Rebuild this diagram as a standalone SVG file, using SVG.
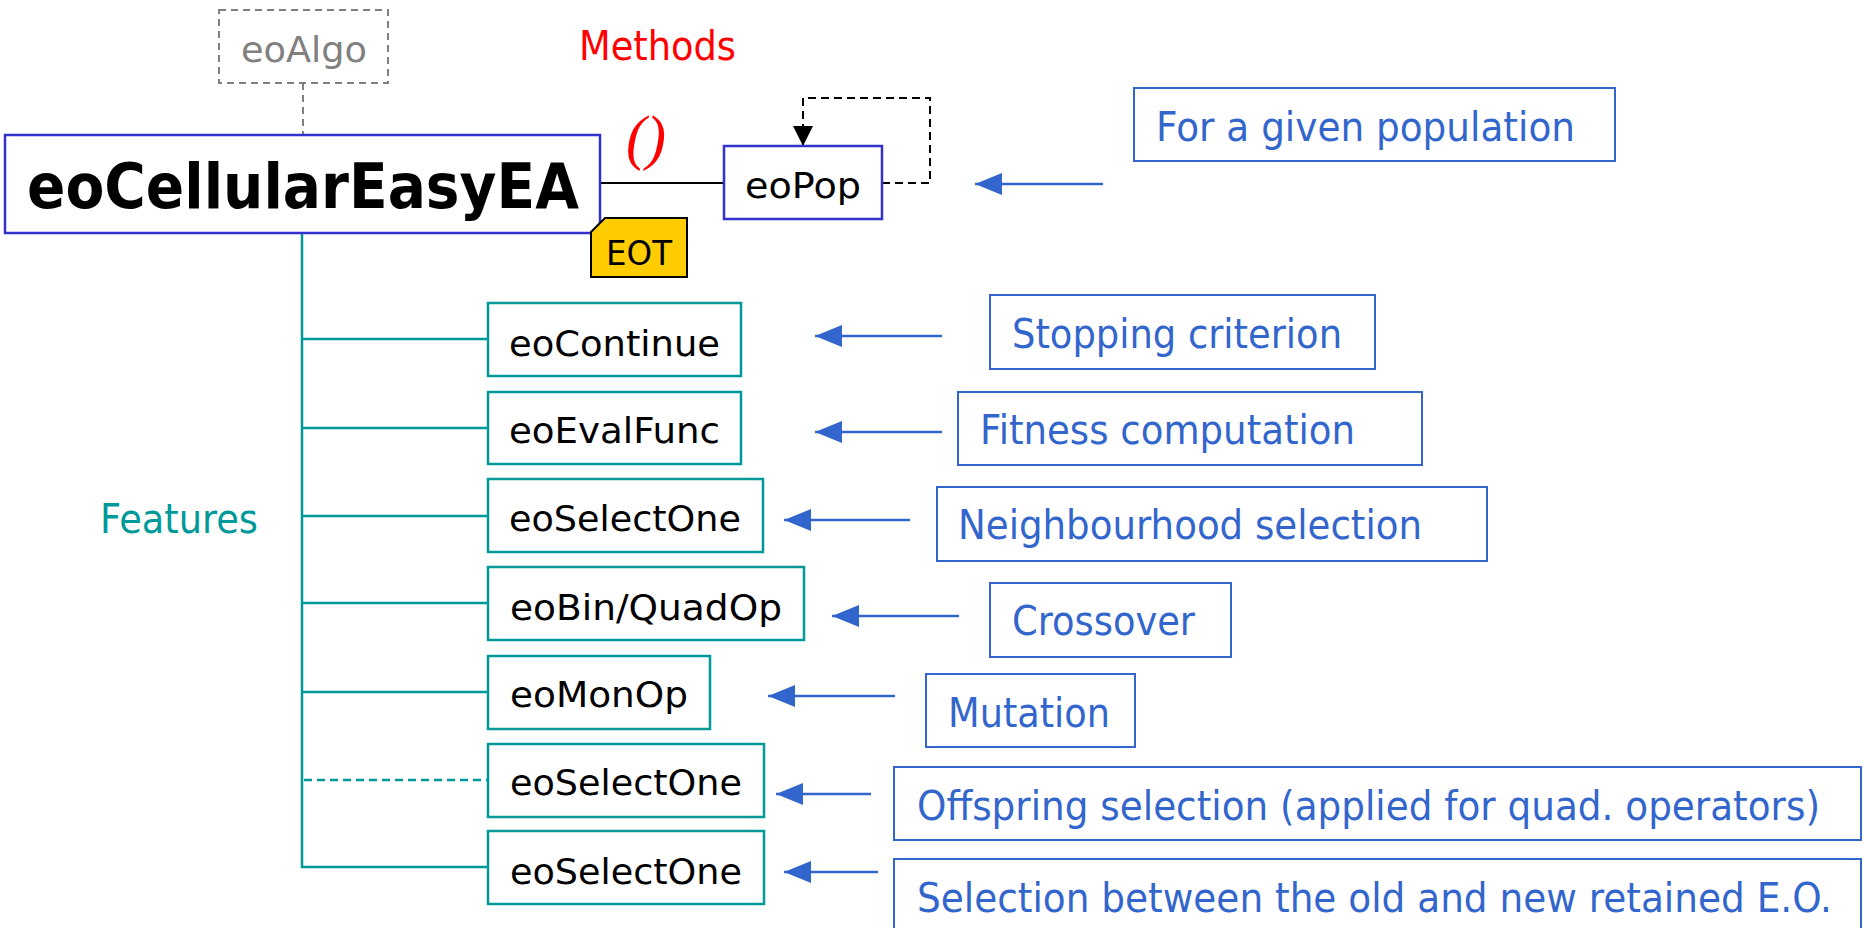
<svg xmlns="http://www.w3.org/2000/svg" width="1863" height="928" viewBox="0 0 1863 928">
  <style>
    text { font-family: "DejaVu Sans", "Liberation Sans", Arial, sans-serif; }
    .node { fill: #ffffff; stroke: #009999; stroke-width: 2.5; }
    .cls { fill: #ffffff; stroke: #3333cc; stroke-width: 2.5; }
    .note { fill: #ffffff; stroke: #3366cc; stroke-width: 2; }
    .ntext { font-size: 36px; fill: #000000; }
    .atext { font-size: 40px; fill: #3366cc; }
    .branch { fill: none; stroke: #009999; stroke-width: 2.5; }
    .ptr { fill: none; stroke: #3366cc; stroke-width: 2.5; marker-end: url(#blueHead); }
  </style>
  <defs>
    <marker id="blueHead" markerUnits="userSpaceOnUse" markerWidth="28" markerHeight="22" refX="27" refY="11" orient="auto">
      <path d="M0,0 L27,11 L0,22 Z" fill="#3366cc"/>
    </marker>
    <marker id="blackHead" markerUnits="userSpaceOnUse" markerWidth="22" markerHeight="22" refX="20" refY="10" orient="auto">
      <path d="M0,0 L20,10 L0,20 Z" fill="#000000"/>
    </marker>
  </defs>

  <rect width="1863" height="928" fill="#ffffff"/>

  <!-- connectors -->
  <g id="connectors">
    <!-- inheritance from eoAlgo -->
    <line x1="303" y1="83" x2="303" y2="135" stroke="#808080" stroke-width="2" stroke-dasharray="7 5"/>
    <!-- population link -->
    <line x1="600" y1="183" x2="724" y2="183" stroke="#000000" stroke-width="2"/>
    <!-- population self loop -->
    <path d="M882,183 H930 V98 H803 V146" fill="none" stroke="#000000" stroke-width="2" stroke-dasharray="8 5" marker-end="url(#blackHead)"/>
    <!-- feature tree -->
    <path class="branch" d="M302,233 V867 H488"/>
    <line class="branch" x1="302" y1="339" x2="488" y2="339"/>
    <line class="branch" x1="302" y1="428" x2="488" y2="428"/>
    <line class="branch" x1="302" y1="516" x2="488" y2="516"/>
    <line class="branch" x1="302" y1="603" x2="488" y2="603"/>
    <line class="branch" x1="302" y1="692" x2="488" y2="692"/>
    <line class="branch" x1="304" y1="780" x2="488" y2="780" stroke-dasharray="8 5"/>
    <!-- annotation pointers -->
    <line class="ptr" x1="1103" y1="184" x2="975" y2="184"/>
    <line class="ptr" x1="942" y1="336" x2="815" y2="336"/>
    <line class="ptr" x1="942" y1="432" x2="815" y2="432"/>
    <line class="ptr" x1="910" y1="520" x2="784" y2="520"/>
    <line class="ptr" x1="959" y1="616" x2="832" y2="616"/>
    <line class="ptr" x1="895" y1="696" x2="768" y2="696"/>
    <line class="ptr" x1="871" y1="794" x2="776" y2="794"/>
    <line class="ptr" x1="878" y1="872" x2="784" y2="872"/>
  </g>

  <!-- base class -->
  <g id="eoAlgo">
    <rect x="219" y="10" width="169" height="73" fill="#ffffff" stroke="#808080" stroke-width="2" stroke-dasharray="7 5"/>
    <text x="241" y="62" font-size="35" fill="#808080" textLength="126" lengthAdjust="spacingAndGlyphs">eoAlgo</text>
  </g>

  <g id="methods-label">
    <text x="579" y="60" font-size="40" fill="#ff0000" textLength="157" lengthAdjust="spacingAndGlyphs">Methods</text>
    <text x="626" y="158" font-size="62" font-style="italic" fill="#ff0000" style="font-family: 'Liberation Serif', serif" textLength="40" lengthAdjust="spacingAndGlyphs">()</text>
  </g>

  <!-- main algorithm -->
  <g id="eoCellularEasyEA">
    <rect class="cls" x="5" y="135" width="595" height="98"/>
    <text x="27" y="208" font-size="62" font-weight="bold" fill="#000000" textLength="552" lengthAdjust="spacingAndGlyphs">eoCellularEasyEA</text>
  </g>

  <g id="eot-param">
    <path d="M591,232 L605,218 H687 V277 H591 Z" fill="#ffcc00" stroke="#000000" stroke-width="2"/>
    <text x="606" y="265" font-size="34" fill="#000000" textLength="66" lengthAdjust="spacingAndGlyphs">EOT</text>
  </g>

  <g id="eoPop">
    <rect class="cls" x="724" y="146" width="158" height="73"/>
    <text x="745" y="198" class="ntext" textLength="116" lengthAdjust="spacingAndGlyphs">eoPop</text>
  </g>

  <g id="features-label">
    <text x="100" y="533" font-size="40" fill="#009999" textLength="158" lengthAdjust="spacingAndGlyphs">Features</text>
  </g>

  <!-- feature components -->
  <g id="eoContinue">
    <rect class="node" x="488" y="303" width="253" height="73"/>
    <text x="509" y="356" class="ntext" textLength="211" lengthAdjust="spacingAndGlyphs">eoContinue</text>
  </g>
  <g id="eoEvalFunc">
    <rect class="node" x="488" y="392" width="253" height="72"/>
    <text x="509" y="443" class="ntext" textLength="211" lengthAdjust="spacingAndGlyphs">eoEvalFunc</text>
  </g>
  <g id="eoSelectOne-neighbour">
    <rect class="node" x="488" y="479" width="275" height="73"/>
    <text x="509" y="531" class="ntext" textLength="232" lengthAdjust="spacingAndGlyphs">eoSelectOne</text>
  </g>
  <g id="eoBinQuadOp">
    <rect class="node" x="488" y="567" width="316" height="73"/>
    <text x="510" y="620" class="ntext" textLength="272" lengthAdjust="spacingAndGlyphs">eoBin/QuadOp</text>
  </g>
  <g id="eoMonOp">
    <rect class="node" x="488" y="656" width="222" height="73"/>
    <text x="510" y="707" class="ntext" textLength="178" lengthAdjust="spacingAndGlyphs">eoMonOp</text>
  </g>
  <g id="eoSelectOne-offspring">
    <rect class="node" x="488" y="744" width="276" height="73"/>
    <text x="510" y="795" class="ntext" textLength="232" lengthAdjust="spacingAndGlyphs">eoSelectOne</text>
  </g>
  <g id="eoSelectOne-replace">
    <rect class="node" x="488" y="831" width="276" height="73"/>
    <text x="510" y="884" class="ntext" textLength="232" lengthAdjust="spacingAndGlyphs">eoSelectOne</text>
  </g>

  <!-- annotations -->
  <g id="note-population">
    <rect class="note" x="1134" y="88" width="481" height="73"/>
    <text x="1156" y="141" class="atext" textLength="419" lengthAdjust="spacingAndGlyphs">For a given population</text>
  </g>
  <g id="note-stopping">
    <rect class="note" x="990" y="295" width="385" height="74"/>
    <text x="1012" y="348" class="atext" textLength="330" lengthAdjust="spacingAndGlyphs">Stopping criterion</text>
  </g>
  <g id="note-fitness">
    <rect class="note" x="958" y="392" width="464" height="73"/>
    <text x="980" y="444" class="atext" textLength="375" lengthAdjust="spacingAndGlyphs">Fitness computation</text>
  </g>
  <g id="note-neighbourhood">
    <rect class="note" x="937" y="487" width="550" height="74"/>
    <text x="958" y="539" class="atext" textLength="464" lengthAdjust="spacingAndGlyphs">Neighbourhood selection</text>
  </g>
  <g id="note-crossover">
    <rect class="note" x="990" y="583" width="241" height="74"/>
    <text x="1012" y="635" class="atext" textLength="183" lengthAdjust="spacingAndGlyphs">Crossover</text>
  </g>
  <g id="note-mutation">
    <rect class="note" x="926" y="674" width="209" height="73"/>
    <text x="948" y="727" class="atext" textLength="162" lengthAdjust="spacingAndGlyphs">Mutation</text>
  </g>
  <g id="note-offspring">
    <rect class="note" x="894" y="767" width="967" height="73"/>
    <text x="917" y="820" class="atext" textLength="903" lengthAdjust="spacingAndGlyphs">Offspring selection (applied for quad. operators)</text>
  </g>
  <g id="note-replacement">
    <rect class="note" x="894" y="859" width="967" height="100"/>
    <text x="917" y="912" class="atext" textLength="915" lengthAdjust="spacingAndGlyphs">Selection between the old and new retained E.O.</text>
  </g>
</svg>
